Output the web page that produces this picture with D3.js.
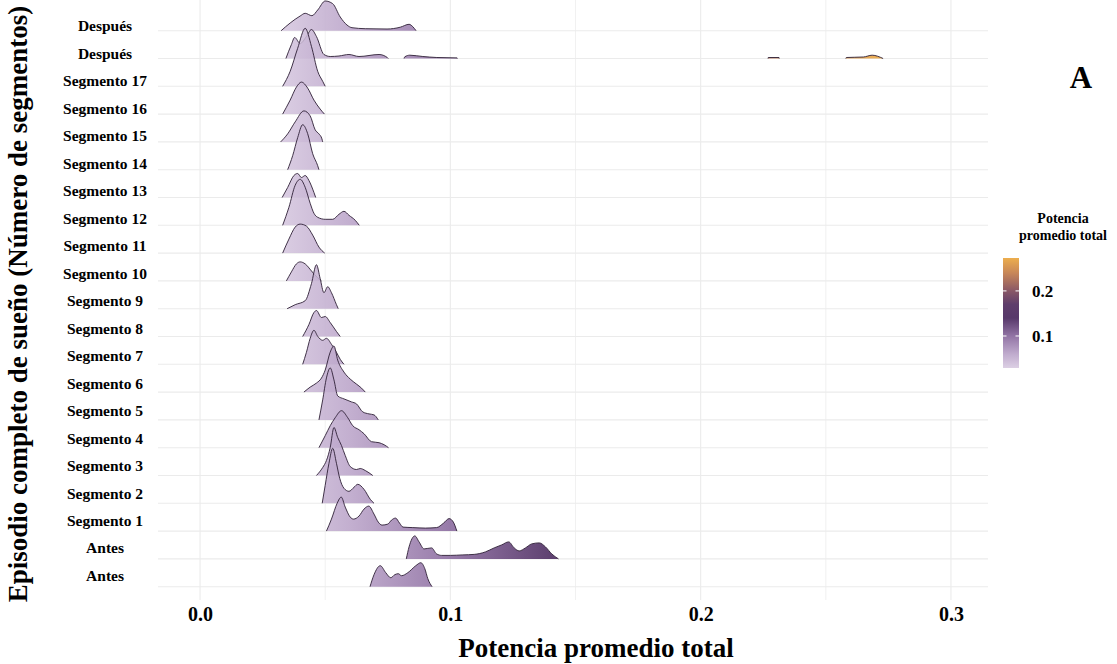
<!DOCTYPE html>
<html><head><meta charset="utf-8">
<script src="https://cdn.jsdelivr.net/npm/d3@7"></script>
<style>
body{margin:0;background:#fff;}
svg{display:block;font-family:"Liberation Serif","Times New Roman",serif;font-weight:bold;}
</style></head><body>
<svg id="c" width="1117" height="664"></svg>
<script>
// categories bottom -> top
const categories = ["Antes","Antes","Segmento 1","Segmento 2","Segmento 3","Segmento 4","Segmento 5","Segmento 6","Segmento 7","Segmento 8","Segmento 9","Segmento 10","Segmento 11","Segmento 12","Segmento 13","Segmento 14","Segmento 15","Segmento 16","Segmento 17","Después","Después"];
const xTicks = [0, 0.1, 0.2, 0.3];
const xMinor = [0.05, 0.15, 0.25];
const legendTicks = [0.1, 0.2];
const colorStops = [0.029, 0.06, 0.1, 0.14, 0.17, 0.2, 0.24, 0.273];
const colorHex = ["#d8cae1","#b9a2c8","#86659b","#45235a","#4d285b","#7c4556","#c27a46","#eba53a"];

// density profiles [value, density] per ridge (pieces separated by gaps)
const rAntesB = [[[0.0679,0],[0.0695,12],[0.072,21],[0.0742,14],[0.0762,9],[0.0778,12],[0.0792,13],[0.0805,11],[0.083,14],[0.0862,21],[0.0882,24],[0.0898,18],[0.091,8],[0.0927,0]]];
const rAntesA = [[[0.0824,0],[0.0835,12],[0.0858,23],[0.0875,17],[0.0895,10],[0.0925,11],[0.0945,5],[0.0965,3.5],[0.1,3.5],[0.105,4],[0.1095,4.5],[0.114,7],[0.1175,11],[0.1205,14],[0.1233,17],[0.1255,11],[0.1275,8],[0.130,11],[0.1325,15],[0.1355,16],[0.138,12],[0.1405,5],[0.1432,0]]];
const rSeg1 = [[[0.0505,0],[0.0525,12],[0.0548,28],[0.0564,34],[0.058,24],[0.060,14],[0.0613,12],[0.0635,15],[0.0655,22],[0.0674,25],[0.0695,17],[0.0712,9],[0.0727,6],[0.075,7],[0.0765,11],[0.0781,13],[0.0797,8],[0.0811,4],[0.085,3.5],[0.09,3],[0.0945,3.5],[0.0973,8],[0.0995,12.5],[0.1012,9],[0.1026,0]]];
const rSeg2 = [[[0.0488,0],[0.050,18],[0.0515,40],[0.053,55],[0.0545,40],[0.0558,25],[0.0575,15],[0.0595,12],[0.0615,16],[0.063,19],[0.0655,14],[0.068,4],[0.0695,0]]];
const rSeg3 = [[[0.0465,0],[0.049,8],[0.0505,15],[0.052,28],[0.0535,48],[0.055,38],[0.0565,30],[0.058,20],[0.060,9],[0.0625,6],[0.064,7],[0.066,5],[0.069,0]]];
const rSeg4 = [[[0.0475,0],[0.050,12],[0.052,22],[0.054,30],[0.0565,37],[0.059,30],[0.061,22],[0.0635,18],[0.0655,14],[0.0685,6],[0.0715,5],[0.0735,3],[0.0753,0]]];
const rSeg5 = [[[0.0475,0],[0.049,20],[0.0505,42],[0.052,52],[0.0535,40],[0.055,24],[0.0575,21],[0.0605,18],[0.0625,16],[0.065,8],[0.0675,6],[0.0695,5],[0.0712,0]]];
const rSeg6 = [[[0.0415,0],[0.044,5],[0.0465,9],[0.0485,14],[0.050,22],[0.052,40],[0.0535,46],[0.055,32],[0.0575,20],[0.060,13],[0.0625,8],[0.0645,4],[0.066,0]]];
const rSeg7 = [[[0.041,0],[0.0425,12],[0.044,26],[0.0455,34],[0.047,28],[0.049,24],[0.0505,26],[0.0525,20],[0.0545,12],[0.056,5],[0.0575,0]]];
const rSeg8 = [[[0.041,0],[0.0435,12],[0.0455,24],[0.0465,26],[0.0485,19],[0.050,20],[0.052,14],[0.0545,5],[0.056,0]]];
const rSeg9 = [[[0.0348,0],[0.038,4],[0.042,8],[0.0445,25],[0.0465,44],[0.048,30],[0.0495,16],[0.051,22],[0.0525,16],[0.0545,4],[0.0552,0]]];
const rSeg10 = [[[0.0345,0],[0.0365,9],[0.0385,17],[0.040,19],[0.042,17],[0.0445,10],[0.047,3],[0.0485,0]]];
const rSeg11 = [[[0.033,0],[0.0355,14],[0.038,26],[0.040,29],[0.0425,27],[0.045,18],[0.0475,6],[0.0498,0]]];
const rSeg12 = [[[0.033,0],[0.0355,18],[0.038,40],[0.040,46],[0.042,38],[0.044,22],[0.0455,12],[0.047,8],[0.050,6],[0.053,6],[0.0555,11],[0.0575,14],[0.0595,10],[0.062,5],[0.0636,0]]];
const rSeg13 = [[[0.0328,0],[0.035,10],[0.0375,22],[0.039,24],[0.0405,20],[0.042,22],[0.0435,17],[0.0455,5],[0.0462,0]]];
const rSeg14 = [[[0.035,0],[0.037,14],[0.039,32],[0.041,45],[0.043,36],[0.045,16],[0.047,4],[0.0475,0]]];
const rSeg15 = [[[0.0322,0],[0.035,8],[0.038,20],[0.0415,31],[0.044,26],[0.046,12],[0.0475,8],[0.0487,3],[0.049,0]]];
const rSeg16 = [[[0.033,0],[0.036,14],[0.0385,27],[0.0405,32],[0.043,26],[0.0455,14],[0.048,5],[0.0497,0]]];
const rSeg17 = [[[0.033,0],[0.036,15],[0.039,38],[0.042,58],[0.0445,40],[0.047,15],[0.049,5],[0.050,0]]];
const rDespuesB = [
  [[0.0343,0],[0.0365,14],[0.0378,21],[0.040,15],[0.0425,22],[0.0445,29],[0.0465,22],[0.0495,4],[0.052,2],[0.0555,2.5],[0.0595,4],[0.0635,2],[0.0715,4],[0.0748,1],[0.0752,0]],
  [[0.0815,0],[0.0818,1.7],[0.0838,3.3],[0.089,2],[0.0946,1],[0.1027,0.6],[0.1028,0]],
  [[0.2269,0],[0.227,1],[0.2313,1],[0.2314,0]],
  [[0.258,0],[0.2582,1],[0.265,1.5],[0.2685,3.3],[0.2729,0]]
];
const rDespuesA = [[[0.0324,0],[0.036,7.7],[0.040,14.7],[0.042,17.4],[0.0447,15],[0.047,20.7],[0.050,29.7],[0.053,27],[0.056,13.7],[0.0587,5.7],[0.0607,3],[0.066,2],[0.0747,1.7],[0.080,3.5],[0.0835,6.4],[0.085,4],[0.0863,0]]];
const ridges = [rAntesB, rAntesA, rSeg1, rSeg2, rSeg3, rSeg4, rSeg5, rSeg6, rSeg7, rSeg8, rSeg9, rSeg10, rSeg11, rSeg12, rSeg13, rSeg14, rSeg15, rSeg16, rSeg17, rDespuesB, rDespuesA];

const svg = d3.select("#c");
const panel = {left: 158, right: 988, top: 0, bottom: 600};
const x = d3.scaleLinear().domain([-0.0168, 0.3148]).range([panel.left, panel.right]);
const y = d3.scalePoint().domain(d3.range(categories.length)).range([586.7, 30.7]);
const yLab = d3.scalePoint().domain(d3.range(categories.length)).range([575.5, 26]);
const step = y.step();
const h = d3.scaleLinear().domain([0, 10]).range([0, 10 * step / 27.8]);
const color = d3.scaleLinear().domain(colorStops).range(colorHex);

const defs = svg.append("defs");
const cmin = colorStops[0], cmax = colorStops[colorStops.length - 1];
const gradH = defs.append("linearGradient").attr("id", "gh").attr("gradientUnits", "userSpaceOnUse")
  .attr("x1", x(cmin)).attr("x2", x(cmax)).attr("y1", 0).attr("y2", 0);
colorStops.forEach(v => gradH.append("stop").attr("offset", (v - cmin) / (cmax - cmin)).attr("stop-color", color(v)));

// grid
const grid = svg.append("g");
xMinor.forEach(v => grid.append("line").attr("x1", x(v)).attr("x2", x(v)).attr("y1", panel.top).attr("y2", panel.bottom).attr("stroke", "#eeeeee").attr("stroke-width", 0.8));
xTicks.forEach(v => grid.append("line").attr("x1", x(v)).attr("x2", x(v)).attr("y1", panel.top).attr("y2", panel.bottom).attr("stroke", "#ebebeb").attr("stroke-width", 1.1));
categories.forEach((c, i) => grid.append("line").attr("x1", panel.left).attr("x2", panel.right).attr("y1", y(i)).attr("y2", y(i)).attr("stroke", "#ebebeb").attr("stroke-width", 1.1));

// ridges, top rows first so lower ones are in front
const gR = svg.append("g");
for (let i = categories.length - 1; i >= 0; i--) {
  const base = y(i);
  const area = d3.area().x(d => x(d[0])).y0(base).y1(d => base - h(d[1])).curve(d3.curveMonotoneX);
  const line = d3.line().x(d => x(d[0])).y(d => base - h(d[1])).curve(d3.curveMonotoneX);
  ridges[i].forEach(piece => {
    gR.append("path").attr("d", area(piece)).attr("fill", "url(#gh)").attr("fill-opacity", 0.86);
    gR.append("path").attr("d", line(piece)).attr("fill", "none").attr("stroke", "#2e1f35").attr("stroke-width", 0.9);
  });
}

// y axis labels
const yAxis = d3.axisLeft(yLab).tickSize(0).tickPadding(0).tickFormat(i => categories[i]);
const gy = svg.append("g").attr("transform", "translate(105,0)").call(yAxis);
gy.select(".domain").remove();
gy.selectAll("text").attr("text-anchor", "middle").attr("x", 0)
  .style("font-family", "'Liberation Serif','Times New Roman',serif").style("font-weight", "bold").style("font-size", "15.5px").attr("fill", "#000");

// x axis
const xAxis = d3.axisBottom(x).tickValues(xTicks).tickSize(0).tickPadding(0).tickFormat(d3.format(".1f"));
const gx = svg.append("g").attr("transform", "translate(0,607)").call(xAxis);
gx.select(".domain").remove();
gx.selectAll("text").style("font-family", "'Liberation Serif','Times New Roman',serif").style("font-weight", "bold").style("font-size", "20px").attr("fill", "#000");

// titles
svg.append("text").attr("x", 596).attr("y", 657).attr("text-anchor", "middle").style("font-size", "27px").text("Potencia promedio total");
svg.append("text").attr("transform", "translate(27,304) rotate(-90)").attr("text-anchor", "middle").style("font-size", "27px").text("Episodio completo de sueño (Número de segmentos)");
svg.append("text").attr("x", 1081).attr("y", 88).attr("text-anchor", "middle").style("font-size", "31px").text("A");

// legend
const lg = svg.append("g");
lg.append("text").attr("x", 1063).attr("y", 223).attr("text-anchor", "middle").style("font-size", "14px").text("Potencia");
lg.append("text").attr("x", 1063).attr("y", 240).attr("text-anchor", "middle").style("font-size", "14px").text("promedio total");
const ly = d3.scaleLinear().domain([cmin, cmax]).range([368, 258]);
const gradV = defs.append("linearGradient").attr("id", "gv").attr("x1", 0).attr("x2", 0).attr("y1", 1).attr("y2", 0);
colorStops.forEach(v => gradV.append("stop").attr("offset", (v - cmin) / (cmax - cmin)).attr("stop-color", color(v)));
lg.append("rect").attr("x", 1003).attr("y", ly(cmax)).attr("width", 16).attr("height", ly(cmin) - ly(cmax)).attr("fill", "url(#gv)").attr("fill-opacity", 0.9);
legendTicks.forEach(v => {
  lg.append("line").attr("x1", 1003).attr("x2", 1006.5).attr("y1", ly(v)).attr("y2", ly(v)).attr("stroke", "#fff").attr("stroke-width", 1);
  lg.append("line").attr("x1", 1015.5).attr("x2", 1019).attr("y1", ly(v)).attr("y2", ly(v)).attr("stroke", "#fff").attr("stroke-width", 1);
});
const lAxis = d3.axisRight(ly).tickValues(legendTicks).tickSize(0).tickPadding(0).tickFormat(d3.format(".1f"));
const gl = lg.append("g").attr("transform", "translate(1032,0)").call(lAxis);
gl.select(".domain").remove();
gl.selectAll("text").style("font-family", "'Liberation Serif','Times New Roman',serif").style("font-weight", "bold").style("font-size", "17px").attr("fill", "#000");
</script>
</body></html>
